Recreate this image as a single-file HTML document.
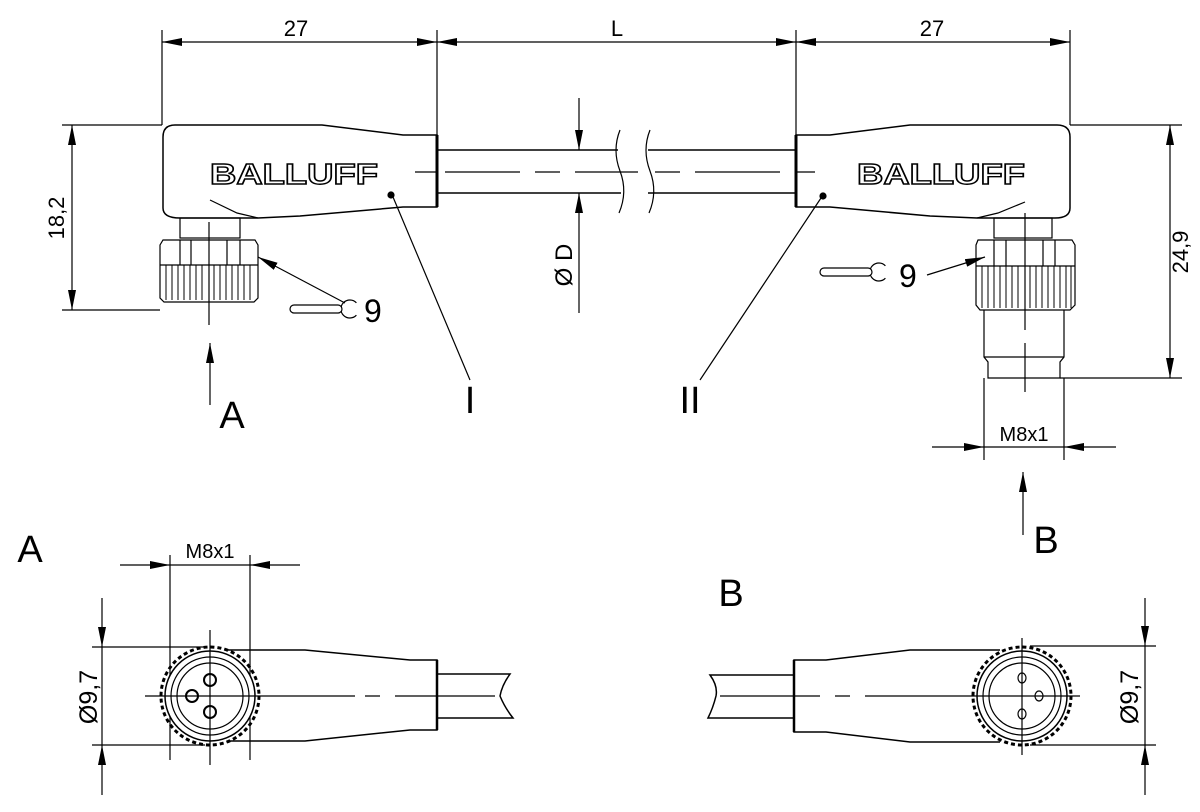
<!DOCTYPE html>
<html><head><meta charset="utf-8"><style>
html,body{margin:0;padding:0;background:#fff}
svg{display:block}
text{font-family:"Liberation Sans",sans-serif}
</style></head><body>
<svg width="1200" height="812" viewBox="0 0 1200 812" xmlns="http://www.w3.org/2000/svg">
<defs>
<marker id="ar" viewBox="0 0 20 8" refX="20" refY="4" markerWidth="20" markerHeight="8" markerUnits="userSpaceOnUse" orient="auto"><path d="M0,0 L20,4 L0,8z" fill="#000"/></marker>
</defs>
<g stroke="#000" stroke-width="1.2" fill="none">
<line x1="162" y1="30" x2="162" y2="125"/>
<line x1="437" y1="30" x2="437" y2="135"/>
<line x1="796" y1="30" x2="796" y2="135"/>
<line x1="1070" y1="30" x2="1070" y2="125"/>
<line x1="300" y1="42" x2="162" y2="42" marker-end="url(#ar)"/>
<line x1="300" y1="42" x2="437" y2="42" marker-end="url(#ar)"/>
<line x1="617" y1="42" x2="437" y2="42" marker-end="url(#ar)"/>
<line x1="617" y1="42" x2="796" y2="42" marker-end="url(#ar)"/>
<line x1="930" y1="42" x2="796" y2="42" marker-end="url(#ar)"/>
<line x1="930" y1="42" x2="1070" y2="42" marker-end="url(#ar)"/>
<path d="M175,125 L322,125 L403,135 L437,135 L437,207 L403,207 L300,216 L258,218 L180,218 Q163,218 163,208 L163,137 Q163,125 175,125 Z" stroke-width="1.5"/>
<line x1="437" y1="135" x2="437" y2="207" stroke-width="3"/>
<path d="M210,200 L237,213 L258,218"/>
<rect x="180" y="218" width="60" height="20"/>
<path d="M163,240 L255,240 L258,245 L258,298 L254,302 L164,302 L160,298 L160,245 Z"/>
<line x1="160" y1="265" x2="258" y2="265"/>
<line x1="180" y1="240" x2="180" y2="265"/><line x1="191" y1="240" x2="191" y2="265"/><line x1="227" y1="240" x2="227" y2="265"/><line x1="240" y1="240" x2="240" y2="265"/>
<path d="M166,265v35M172,265v35M178,265v35M184,265v35M190,265v35M196,265v35M202,265v35M214,265v35M220,265v35M226,265v35M232,265v35M238,265v35M244,265v35M250,265v35" stroke-width="1"/>
<line x1="209" y1="222" x2="209" y2="325"/>
<path d="M437,150 L618,150 M437,193 L621,193 M648,150 L796,150 M648,193 L796,193" stroke-width="1.5"/>
<path d="M620,130 Q612,150 620,171 Q628,192 619,213"/>
<path d="M650,130 Q642,150 650,171 Q658,192 649,213"/>
<path d="M415,172 H437 M445,172 H520 M535,172 H560 M575,172 H638 M655,172 H680 M695,172 H780 M796,172 H815"/>
<line x1="579" y1="98" x2="579" y2="150" marker-end="url(#ar)"/>
<line x1="579" y1="313" x2="579" y2="193" marker-end="url(#ar)"/>
<line x1="62" y1="125" x2="162" y2="125"/>
<line x1="62" y1="310" x2="160" y2="310"/>
<line x1="72" y1="218" x2="72" y2="125" marker-end="url(#ar)"/>
<line x1="72" y1="218" x2="72" y2="310" marker-end="url(#ar)"/>
<path d="M345,303 L258,257" marker-end="url(#ar)"/>
<path d="M356.4,302.8 A9,9 0 1 0 356.4,315.2"/>
<rect x="290" y="305" width="52" height="8" rx="4" fill="#fff"/>
<line x1="210" y1="405" x2="210" y2="343" marker-end="url(#ar)"/>
<circle cx="391" cy="195" r="3" fill="#000"/>
<line x1="393" y1="197" x2="470" y2="380"/>
<circle cx="823" cy="196" r="3" fill="#000"/>
<line x1="821" y1="198" x2="700" y2="380"/>
<path d="M1057,125 L910,125 L830,135 L796,135 L796,207 L830,207 L930,216 L977,218 L1055,218 Q1070,218 1070,208 L1070,137 Q1070,125 1057,125 Z" stroke-width="1.5"/>
<line x1="796" y1="135" x2="796" y2="207" stroke-width="3"/>
<path d="M1025,202 L998,213 L977,218"/>
<rect x="994" y="218" width="58" height="20"/>
<path d="M978,240 L1072,240 L1075,245 L1075,305 L1070,310 L980,310 L976,305 L976,245 Z"/>
<line x1="976" y1="266" x2="1075" y2="266"/>
<line x1="994" y1="240" x2="994" y2="266"/><line x1="1006" y1="240" x2="1006" y2="266"/><line x1="1043" y1="240" x2="1043" y2="266"/><line x1="1055" y1="240" x2="1055" y2="266"/>
<path d="M982,266v42M988,266v42M994,266v42M1000,266v42M1006,266v42M1012,266v42M1018,266v42M1030,266v42M1036,266v42M1042,266v42M1048,266v42M1054,266v42M1060,266v42M1066,266v42M1071,266v42" stroke-width="1"/>
<path d="M984,310 L984,357 L988,362 L988,378 L1060,378 L1060,362 L1064,357 L1064,310"/>
<line x1="984" y1="357" x2="1064" y2="357"/>
<line x1="1025" y1="213" x2="1025" y2="330"/><line x1="1025" y1="343" x2="1025" y2="392"/>
<path d="M927,275 L985,257" marker-end="url(#ar)"/>
<path d="M885.4,265.8 A9,9 0 1 0 885.4,278.2"/>
<rect x="820" y="268" width="52" height="8" rx="4" fill="#fff"/>
<line x1="1070" y1="125" x2="1182" y2="125"/>
<line x1="1060" y1="378" x2="1182" y2="378"/>
<line x1="1170" y1="250" x2="1170" y2="125" marker-end="url(#ar)"/>
<line x1="1170" y1="250" x2="1170" y2="378" marker-end="url(#ar)"/>
<line x1="984" y1="378" x2="984" y2="460"/>
<line x1="1064" y1="378" x2="1064" y2="460"/>
<line x1="932" y1="447" x2="984" y2="447" marker-end="url(#ar)"/>
<line x1="984" y1="447" x2="1064" y2="447"/>
<line x1="1116" y1="447" x2="1064" y2="447" marker-end="url(#ar)"/>
<line x1="1023" y1="535" x2="1023" y2="472" marker-end="url(#ar)"/>
<line x1="120" y1="565" x2="170" y2="565" marker-end="url(#ar)"/>
<line x1="300" y1="565" x2="250" y2="565" marker-end="url(#ar)"/>
<line x1="170" y1="565" x2="250" y2="565"/>
<line x1="170" y1="555" x2="170" y2="760"/>
<line x1="250" y1="555" x2="250" y2="760"/>
<line x1="102" y1="598" x2="102" y2="647" marker-end="url(#ar)"/>
<line x1="102" y1="795" x2="102" y2="745" marker-end="url(#ar)"/>
<line x1="102" y1="647" x2="102" y2="745"/>
<line x1="92" y1="647" x2="205" y2="647"/>
<line x1="92" y1="745" x2="205" y2="745"/>
<path d="M228,650 L305,650 L410,660 L437,660 L437,730 L410,730 L305,741 L228,741" stroke-width="1.5"/>
<line x1="437" y1="660" x2="437" y2="730" stroke-width="2.5"/>
<path d="M437,674 L510,674 Q502,685 500,696 Q505,708 513,718 L437,718" stroke-width="1.5"/>
<circle cx="210" cy="696" r="49" stroke-dasharray="4 3" stroke-width="3"/>
<circle cx="210" cy="696" r="45" fill="#fff" stroke-width="1.5"/>
<circle cx="210" cy="696" r="39"/>
<circle cx="210" cy="696" r="33"/>
<circle cx="210" cy="680" r="6" stroke-width="2"/>
<circle cx="192" cy="696" r="6" stroke-width="2"/>
<circle cx="210" cy="712" r="6" stroke-width="2"/>
<line x1="210" y1="630" x2="210" y2="765"/>
<path d="M145,696 H355 M365,696 H380 M395,696 H495"/>
<path d="M1000,650 L910,650 L826,660 L794,660 L794,732 L826,732 L910,742 L1000,742" stroke-width="1.5"/>
<line x1="794" y1="660" x2="794" y2="732" stroke-width="2.5"/>
<path d="M794,675 L710,675 Q718,686 716,696 Q713,708 708,718 L794,718" stroke-width="1.5"/>
<circle cx="1022" cy="696" r="49" stroke-dasharray="4 3" stroke-width="3"/>
<circle cx="1022" cy="696" r="45" fill="#fff" stroke-width="1.5"/>
<circle cx="1022" cy="696" r="39"/>
<circle cx="1022" cy="696" r="33"/>
<ellipse cx="1022" cy="678" rx="4" ry="5"/>
<ellipse cx="1039" cy="696" rx="4" ry="5"/>
<ellipse cx="1022" cy="714" rx="4" ry="5"/>
<line x1="1022" y1="638" x2="1022" y2="755"/>
<path d="M720,696 H820 M835,696 H850 M865,696 H1080"/>
<line x1="1030" y1="646" x2="1156" y2="646"/>
<line x1="1030" y1="745" x2="1156" y2="745"/>
<line x1="1145" y1="598" x2="1145" y2="646" marker-end="url(#ar)"/>
<line x1="1145" y1="795" x2="1145" y2="745" marker-end="url(#ar)"/>
<line x1="1145" y1="646" x2="1145" y2="745"/>
</g>
<text x="210" y="184" font-size="29" font-weight="bold" textLength="168" lengthAdjust="spacingAndGlyphs" style="fill:#fff;stroke:#000;stroke-width:1.4">BALLUFF</text>
<text x="857" y="184" font-size="29" font-weight="bold" textLength="168" lengthAdjust="spacingAndGlyphs" style="fill:#fff;stroke:#000;stroke-width:1.4">BALLUFF</text>
<g fill="#000">
<text x="296" y="36" font-size="22" text-anchor="middle">27</text>
<text x="617" y="36" font-size="22" text-anchor="middle">L</text>
<text x="932" y="36" font-size="22" text-anchor="middle">27</text>
<text transform="translate(64,218) rotate(-90)" font-size="22" text-anchor="middle">18,2</text>
<text transform="translate(1188,252) rotate(-90)" font-size="22" text-anchor="middle">24,9</text>
<text transform="translate(572,265) rotate(-90)" font-size="24" text-anchor="middle">Ø D</text>
<text x="364" y="322" font-size="32">9</text>
<text x="899" y="287" font-size="32">9</text>
<text x="232" y="428" font-size="38" text-anchor="middle">A</text>
<text x="470" y="413" font-size="38" text-anchor="middle">I</text>
<text x="690" y="413" font-size="38" text-anchor="middle">II</text>
<text x="1024" y="441" font-size="20" text-anchor="middle">M8x1</text>
<text x="1046" y="553" font-size="38" text-anchor="middle">B</text>
<text x="30" y="562" font-size="38" text-anchor="middle">A</text>
<text x="210" y="558" font-size="20" text-anchor="middle">M8x1</text>
<text x="731" y="606" font-size="38" text-anchor="middle">B</text>
<text transform="translate(97,697) rotate(-90)" font-size="25" text-anchor="middle">Ø9,7</text>
<text transform="translate(1138,697) rotate(-90)" font-size="25" text-anchor="middle">Ø9,7</text>
</g>
</svg>
</body></html>
